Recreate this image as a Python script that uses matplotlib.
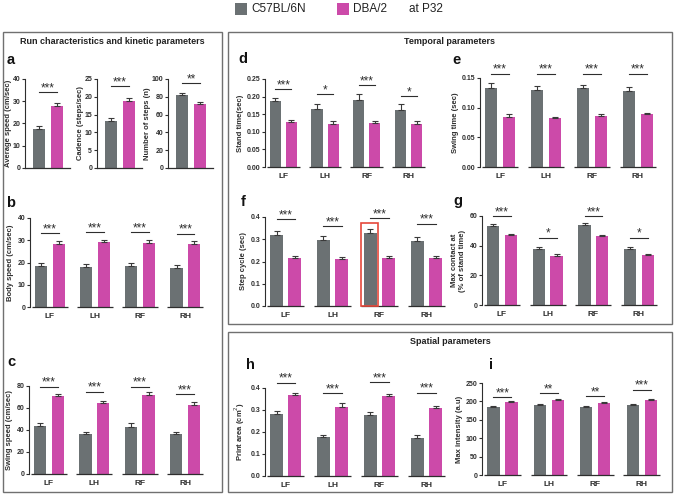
import matplotlib
matplotlib.use("Agg")
import matplotlib.pyplot as plt
from matplotlib.patches import Rectangle
import numpy as np

plt.rcParams["font.family"] = ["Liberation Sans", "DejaVu Sans"]

W, H = 676, 495
GRAY = "#6b7173"
MAGENTA = "#cc4aa9"
INK = "#2e2e2e"

limbs = ["LF", "LH", "RF", "RH"]

# ── panel a: run characteristics (C57BL/6N, DBA/2) ────────────────────────────
avg_speed, avg_speed_err = [17.5, 28.0], [1.3, 1.3]
cadence, cadence_err = [13.2, 18.9], [0.8, 0.7]
n_steps, n_steps_err = [82.0, 72.0], [2.8, 2.0]

# ── panel b: body speed ───────────────────────────────────────────────────────
b_c57 = [18.5, 18.2, 18.5, 17.5]
b_c57_err = [1.4, 1.3, 1.4, 1.3]
b_dba = [28.5, 29.0, 28.7, 28.4]
b_dba_err = [1.2, 1.1, 1.3, 1.2]
b_sig = [33.3, 33.6, 33.6, 33.0]

# ── panel c: swing speed ──────────────────────────────────────────────────────
c_c57 = [43.5, 36.0, 43.0, 36.0]
c_c57_err = [3.0, 1.8, 3.0, 1.8]
c_dba = [70.5, 64.5, 72.0, 63.0]
c_dba_err = [2.5, 2.3, 2.5, 2.5]
c_sig = [79.5, 75.0, 79.5, 72.5]

# ── panel d: stand time ───────────────────────────────────────────────────────
d_c57 = [0.187, 0.164, 0.190, 0.163]
d_c57_err = [0.010, 0.016, 0.016, 0.015]
d_dba = [0.128, 0.123, 0.125, 0.123]
d_dba_err = [0.005, 0.008, 0.005, 0.009]
d_sig = [0.222, 0.207, 0.233, 0.202]
d_stars = ["***", "*", "***", "*"]

# ── panel e: swing time ───────────────────────────────────────────────────────
e_c57 = [0.133, 0.130, 0.133, 0.128]
e_c57_err = [0.008, 0.006, 0.006, 0.007]
e_dba = [0.085, 0.083, 0.086, 0.089]
e_dba_err = [0.004, 0.002, 0.004, 0.002]
e_sig = [0.157, 0.157, 0.157, 0.157]

# ── panel f: step cycle ───────────────────────────────────────────────────────
f_c57 = [0.320, 0.295, 0.328, 0.293]
f_c57_err = [0.018, 0.020, 0.020, 0.018]
f_dba = [0.215, 0.210, 0.215, 0.215]
f_dba_err = [0.009, 0.009, 0.009, 0.010]
f_sig = [0.390, 0.360, 0.395, 0.370]

# ── panel g: max contact ──────────────────────────────────────────────────────
g_c57 = [53.0, 37.5, 54.0, 38.0]
g_c57_err = [1.5, 1.3, 1.6, 1.0]
g_dba = [47.0, 33.0, 46.5, 33.5]
g_dba_err = [1.0, 1.3, 1.0, 1.0]
g_sig = [60.0, 45.5, 60.0, 45.5]
g_stars = ["***", "*", "***", "*"]

# ── panel h: print area ───────────────────────────────────────────────────────
h_c57 = [0.283, 0.177, 0.278, 0.175]
h_c57_err = [0.013, 0.010, 0.013, 0.012]
h_dba = [0.367, 0.315, 0.362, 0.308]
h_dba_err = [0.010, 0.017, 0.012, 0.012]
h_sig = [0.424, 0.377, 0.427, 0.379]

# ── panel i: max intensity ────────────────────────────────────────────────────
i_c57 = [184, 190, 185, 191]
i_c57_err = [3, 3, 2, 2]
i_dba = [198, 204, 197, 205]
i_dba_err = [2, 2, 2, 2]
i_sig = [212, 223, 215, 232]
i_stars = ["***", "**", "**", "***"]

all_three = ["***"] * 4

fig = plt.figure(figsize=(W / 100, H / 100), dpi=100)


def fx(x):
    return x / W


def fy(y):
    return 1 - y / H


def px_axes(x0, y0, x1, y1):
    return fig.add_axes([fx(x0), fy(y1), (x1 - x0) / W, (y1 - y0) / H])


def style_y(ax, ticks, labels, ylabel, lpad=2):
    ax.set_ylim(0, ticks[-1])
    ax.set_yticks(ticks)
    ax.set_yticklabels(labels, fontsize=5, fontweight="bold", color=INK)
    ax.tick_params(axis="y", length=2.5, width=0.8, pad=1, color=INK)
    ax.spines["top"].set_visible(False)
    ax.spines["right"].set_visible(False)
    ax.spines["left"].set_linewidth(0.8)
    ax.spines["left"].set_color(INK)
    ax.set_ylabel(ylabel, fontsize=5.5, fontweight="bold", color=INK, labelpad=lpad)


def sig(ax, x0, x1, y, stars):
    ax.plot([x0, x1], [y, y], color=INK, lw=0.8, clip_on=False)
    ax.annotate(stars, ((x0 + x1) / 2, y), xytext=(0, -1.5), textcoords="offset points",
                ha="center", va="bottom", fontsize=8.5, color=INK, annotation_clip=False)


def ebar(ax, x, y, e):
    ax.errorbar(x, y, yerr=[np.zeros(len(e)), e], fmt="none", ecolor="#3a3a3a",
                elinewidth=0.8, capsize=2, capthick=0.8, clip_on=False)


def pair_panel(box, vals, errs, stars, sig_y, ylabel, ticks, labels):
    ax = px_axes(*box)
    x = np.array([0.0, 1.0])
    ax.bar(x, vals, 0.68, color=[GRAY, MAGENTA])
    ebar(ax, x, vals, errs)
    sig(ax, 0.0, 1.0, sig_y, stars)
    ax.set_xlim(-0.8, 1.75)
    ax.set_xticks([])
    ax.spines["bottom"].set_linewidth(0.9)
    ax.spines["bottom"].set_color(INK)
    style_y(ax, ticks, labels, ylabel, lpad=0.5)
    return ax


P = 3.75


def grouped(box, c57, c57e, dba, dbae, stars, sig_y, ylabel, ticks, labels):
    ax = px_axes(*box)
    x = np.arange(4) * P
    ax.bar(x + 0.75, c57, 1.0, color=GRAY)
    ax.bar(x + 2.2, dba, 1.0, color=MAGENTA)
    ebar(ax, x + 0.75, c57, c57e)
    ebar(ax, x + 2.2, dba, dbae)
    for k in range(4):
        ax.plot([x[k], x[k] + 2.95], [0, 0], color=INK, lw=0.9, clip_on=False,
                solid_capstyle="butt")
        sig(ax, x[k] + 0.75, x[k] + 2.2, sig_y[k], stars[k])
    ax.spines["bottom"].set_visible(False)
    ax.set_xlim(-0.17, 3 * P + 2.95)
    ax.set_xticks(x + 1.47)
    ax.set_xticklabels(limbs, fontsize=6, fontweight="bold", color=INK)
    ax.tick_params(axis="x", length=0, pad=4)
    style_y(ax, ticks, labels, ylabel)
    return ax


# ── section boxes and titles ─────────────────────────────────────────────────
for (x0, y0, x1, y1) in [(3, 32, 222, 492), (228, 32, 672, 324), (228, 332, 672, 492)]:
    fig.patches.append(Rectangle((fx(x0), fy(y1)), (x1 - x0) / W, (y1 - y0) / H,
                                 transform=fig.transFigure, fill=False,
                                 edgecolor="#707070", lw=1.0))
fig.text(fx(112), fy(42), "Run characteristics and kinetic parameters", ha="center",
         va="center", fontsize=6.5, fontweight="bold", color="#222222")
fig.text(fx(450), fy(42), "Temporal parameters", ha="center", va="center",
         fontsize=6.5, fontweight="bold", color="#222222")
fig.text(fx(450), fy(341), "Spatial parameters", ha="center", va="center",
         fontsize=6.5, fontweight="bold", color="#222222")

# ── legend ───────────────────────────────────────────────────────────────────
for (x0, c) in [(235, GRAY), (337, MAGENTA)]:
    fig.patches.append(Rectangle((fx(x0), fy(15)), 12 / W, 12 / H,
                                 transform=fig.transFigure, color=c, lw=0))
fig.text(fx(251), fy(9), "C57BL/6N", ha="left", va="center", fontsize=8.5, color="#222222")
fig.text(fx(353), fy(9), "DBA/2", ha="left", va="center", fontsize=8.5, color="#222222")
fig.text(fx(409), fy(9), "at P32", ha="left", va="center", fontsize=8.5, color="#222222")

# ── panel letters ────────────────────────────────────────────────────────────
for (lab, x, y) in [("a", 7, 60), ("b", 6, 203), ("c", 7, 362), ("d", 238, 59),
                    ("e", 452, 60), ("f", 241, 202), ("g", 453, 201), ("h", 246, 365),
                    ("i", 489, 365)]:
    fig.text(fx(x), fy(y), lab, ha="left", va="center", fontsize=10.5,
             fontweight="bold", color="#111111")

# ── panels ───────────────────────────────────────────────────────────────────
pair_panel((25, 79, 70, 168), avg_speed, avg_speed_err, "***", 34.0,
           "Average speed (cm/sec)", [0, 10, 20, 30, 40], ["0", "10", "20", "30", "40"])
pair_panel((97, 79, 142, 168), cadence, cadence_err, "***", 22.9,
           "Cadence (steps/sec)", [0, 5, 10, 15, 20, 25], ["0", "5", "10", "15", "20", "25"])
pair_panel((168, 79, 213, 168), n_steps, n_steps_err, "**", 95.5,
           "Number of steps (n)", [0, 20, 40, 60, 80, 100],
           ["0", "20", "40", "60", "80", "100"])

grouped((30, 218, 203, 307), b_c57, b_c57_err, b_dba, b_dba_err, all_three, b_sig,
        "Body speed (cm/sec)", [0, 10, 20, 30, 40], ["0", "10", "20", "30", "40"])
grouped((29, 386, 203, 474), c_c57, c_c57_err, c_dba, c_dba_err, all_three, c_sig,
        "Swing speed (cm/sec)", [0, 20, 40, 60, 80], ["0", "20", "40", "60", "80"])
grouped((265, 79, 425, 167), d_c57, d_c57_err, d_dba, d_dba_err, d_stars, d_sig,
        "Stand time(sec)", [0, 0.05, 0.10, 0.15, 0.20, 0.25],
        ["0.00", "0.05", "0.10", "0.15", "0.20", "0.25"])
grouped((480, 78, 656, 167), e_c57, e_c57_err, e_dba, e_dba_err, all_three, e_sig,
        "Swing time (sec)", [0, 0.05, 0.10, 0.15], ["0.00", "0.05", "0.10", "0.15"])
axf = grouped((265, 217, 445, 306), f_c57, f_c57_err, f_dba, f_dba_err, all_three, f_sig,
              "Step cycle (sec)", [0, 0.1, 0.2, 0.3, 0.4], ["0.0", "0.1", "0.2", "0.3", "0.4"])
axf.add_patch(Rectangle((2 * P + 0.02, 0), 1.33, 0.372, fill=False, edgecolor="#e5483b",
                        lw=1.2, clip_on=False, zorder=5))
grouped((482, 216, 657, 305), g_c57, g_c57_err, g_dba, g_dba_err, g_stars, g_sig,
        "Max contact at\n(% of stand time)", [0, 20, 40, 60], ["0", "20", "40", "60"])
grouped((265, 388, 445, 476), h_c57, h_c57_err, h_dba, h_dba_err, all_three, h_sig,
        "Print area (cm$^2$)", [0, 0.1, 0.2, 0.3, 0.4], ["0.0", "0.1", "0.2", "0.3", "0.4"])
grouped((482, 383, 660, 475), i_c57, i_c57_err, i_dba, i_dba_err, i_stars, i_sig,
        "Max intensity (a.u)", [0, 50, 100, 150, 200, 250],
        ["0", "50", "100", "150", "200", "250"])

fig.savefig("out.png", dpi=100)
